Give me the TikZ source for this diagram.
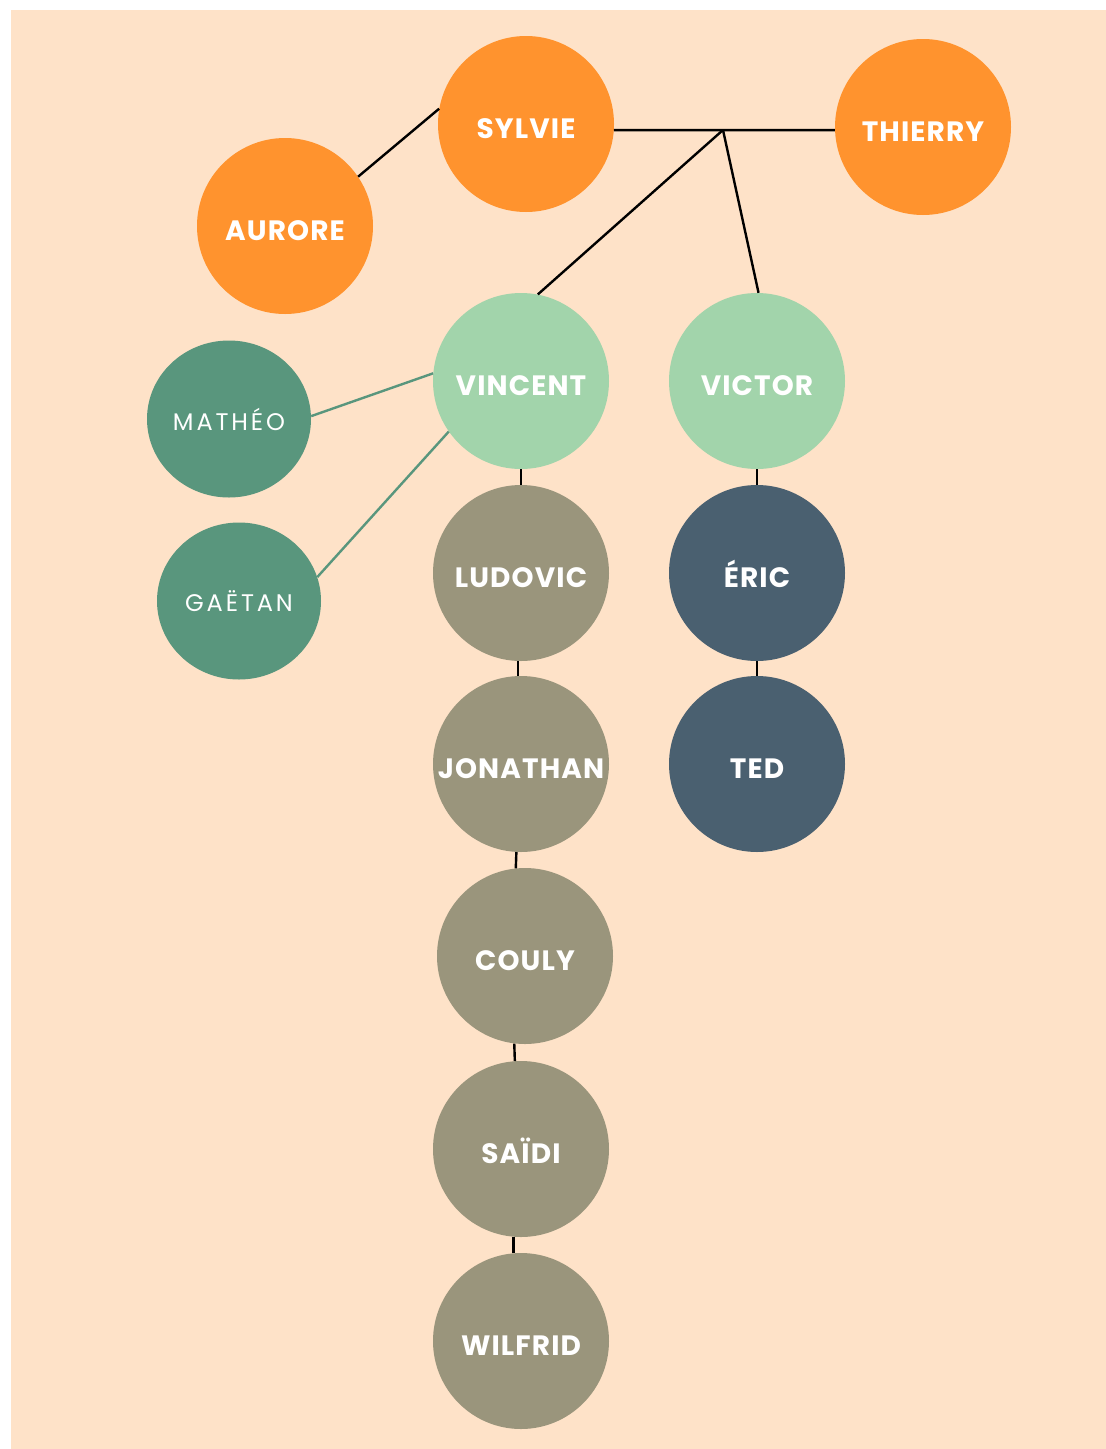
\documentclass[tikz,border=0pt]{standalone}
\usepackage{fontspec}
\setmainfont{Poppins}
\newfontfamily\lightfont[LetterSpace=12]{Poppins}
\usetikzlibrary{shapes.geometric}
\definecolor{bg}{HTML}{FEE2C8}
\definecolor{orng}{HTML}{FF932E}
\definecolor{lgreen}{HTML}{A2D4AB}
\definecolor{dgreen}{HTML}{59967D}
\definecolor{taupe}{HTML}{9A957C}
\definecolor{slate}{HTML}{4A6070}
\tikzset{
  person/.style={circle, minimum size=176pt, inner sep=0pt, text=white, text height=28pt, text depth=0pt,
    font=\bfseries\fontsize{28}{28}\selectfont\addfontfeatures{LetterSpace=4}},
  orangep/.style={person, fill=orng},
  greenp/.style={person, fill=lgreen},
  taupep/.style={person, fill=taupe},
  slatep/.style={person, fill=slate},
  darkp/.style={ellipse, minimum width=164pt, minimum height=157pt, inner sep=0pt, fill=dgreen, text=white, font=\lightfont\fontsize{24}{24}\selectfont},
  link/.style={line width=2.4pt, black},
  glink/.style={line width=2.4pt, dgreen},
}
\begin{document}
\begin{tikzpicture}[x=1pt, y=-1pt]
\useasboundingbox (0,0) rectangle (1106,1449);
\fill[white] (0,0) rectangle (1106,1449);
\fill[bg] (11,10) rectangle (1106,1449);

\node[orangep] (sylvie) at (526,124) {SYLVIE};
\node[orangep] (thierry) at (923,127) {THIERRY};
\node[orangep] (aurore) at (285,226) {AURORE};
\node[greenp] (vincent) at (521,381) {VINCENT};
\node[greenp] (victor) at (757,381) {VICTOR};
\node[darkp] (matheo) at (229,419) {MATHÉO};
\node[darkp] (gaetan) at (239,601) {GAËTAN};
\node[taupep] (ludovic) at (521,573) {LUDOVIC};
\node[taupep] (jonathan) at (521,764) {JONATHAN};
\node[taupep] (couly) at (525,956) {COULY};
\node[taupep] (saidi) at (521,1149) {SAÏDI};
\node[taupep] (wilfrid) at (521,1341) {WILFRID};
\node[slatep] (eric) at (757,573) {ÉRIC};
\node[slatep] (ted) at (757,764) {TED};

\coordinate (j) at (723,130);

\draw[link] (aurore.34) -- (sylvie.170);
\draw[link] (sylvie.-4) -- (thierry.182);
\draw[link] (j) -- (vincent.79);
\draw[link] (j) -- (victor.89);
\draw[glink] (vincent.175) -- (matheo.2);
\draw[glink] (vincent.215) -- (gaetan.17);
\draw[link] (vincent.south) -- (ludovic.north);
\draw[link] (ludovic.268) -- (jonathan.92);
\draw[link] (jonathan.267) -- (couly.96);
\draw[link] (couly.263) -- (saidi.94);
\draw[link] (saidi.265) -- (wilfrid.95);
\draw[link] (victor.south) -- (eric.north);
\draw[link] (eric.south) -- (ted.north);
\end{tikzpicture}
\end{document}
